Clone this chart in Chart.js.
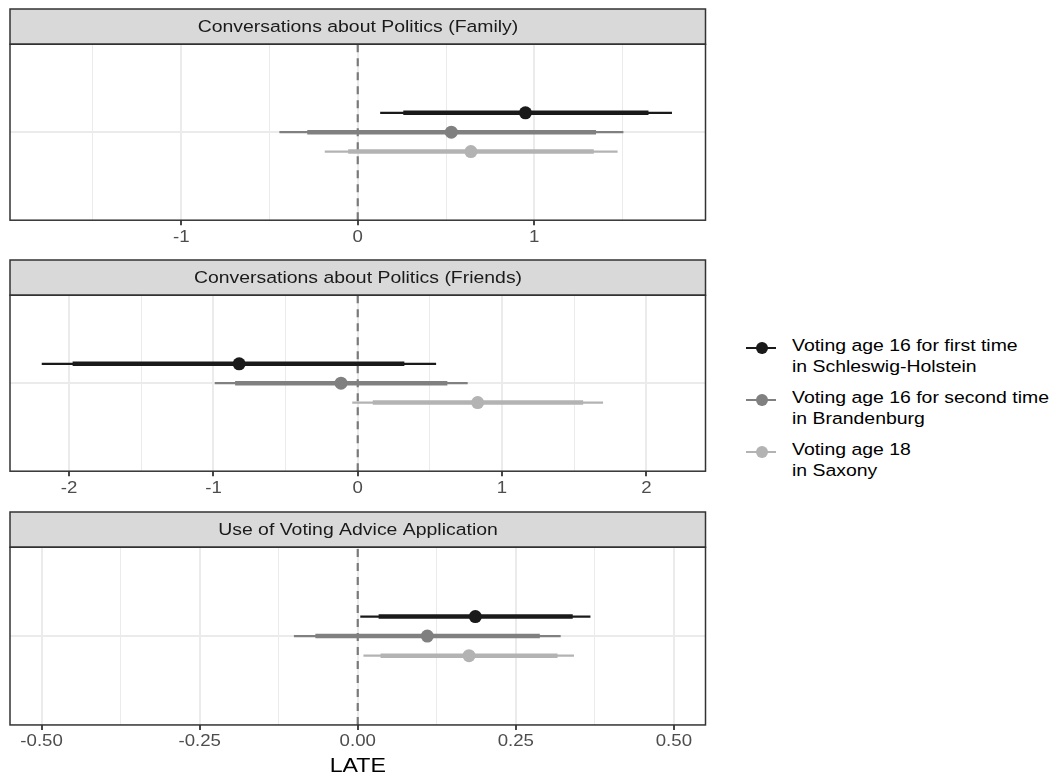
<!DOCTYPE html>
<html><head><meta charset="utf-8">
<script src="https://cdn.jsdelivr.net/npm/chart.js@4.4.1/dist/chart.umd.min.js"></script>
<style>
html,body{margin:0;padding:0;background:#fff;}
body{position:relative;width:1058px;height:778px;overflow:hidden;font-family:"Liberation Sans",Arial,sans-serif;}
canvas{position:absolute;left:0;}
#legend .item{position:absolute;left:746px;width:310px;height:44px;}
#legend .key{position:absolute;left:0;width:30px;height:2.5px;}
#legend .dot{position:absolute;left:9.5px;width:12px;height:12px;border-radius:50%;}
#legend .lab{position:absolute;left:46px;top:0;font-size:17.2px;line-height:21px;color:#000;white-space:nowrap;transform:scaleX(1.13);transform-origin:0 0;}
</style></head>
<body>
<canvas id="panel0" width="712" height="249" style="top:0px"></canvas>
<canvas id="panel1" width="712" height="249" style="top:251px"></canvas>
<canvas id="panel2" width="712" height="275" style="top:503px"></canvas>
<div id="legend"></div>
<script>
// ---------- data ----------
const outcomes = ['Conversations about Politics (Family)', 'Conversations about Politics (Friends)', 'Use of Voting Advice Application'];
const seriesLabels = [
  ['Voting age 16 for first time', 'in Schleswig-Holstein'],
  ['Voting age 16 for second time', 'in Brandenburg'],
  ['Voting age 18', 'in Saxony']
];
const xTitle = 'LATE';

const familyEst  = [0.950, 0.530, 0.641];
const familyLo95 = [0.127, -0.444, -0.187];
const familyHi95 = [1.780, 1.505, 1.472];
const familyLo90 = [0.258, -0.286, -0.054];
const familyHi90 = [1.647, 1.350, 1.337];

const friendsEst  = [-0.822, -0.116, 0.831];
const friendsLo95 = [-2.190, -0.991, -0.038];
const friendsHi95 = [0.543, 0.762, 1.700];
const friendsLo90 = [-1.976, -0.850, 0.104];
const friendsHi90 = [0.323, 0.621, 1.562];

const vaaEst  = [0.186, 0.110, 0.176];
const vaaLo95 = [0.004, -0.101, 0.009];
const vaaHi95 = [0.368, 0.321, 0.342];
const vaaLo90 = [0.033, -0.067, 0.036];
const vaaHi90 = [0.340, 0.288, 0.316];

const familyTicks = [-1, 0, 1];
const familyTickLabels = ['-1', '0', '1'];
const friendsTicks = [-2, -1, 0, 1, 2];
const friendsTickLabels = ['-2', '-1', '0', '1', '2'];
const vaaTicks = [-0.5, -0.25, 0, 0.25, 0.5];
const vaaTickLabels = ['-0.50', '-0.25', '0.00', '0.25', '0.50'];

// ---------- styles / layout ----------
const seriesColors = ['#1a1a1a', '#808080', '#b3b3b3'];
const DODGE = [0.22, 0, -0.22];
const FONT = '"Liberation Sans", Arial, sans-serif';
const STRETCH = 1.13;

const stretchPlugin = {
  id: 'stretchText',
  beforeInit(chart) {
    const ctx = chart.ctx;
    const orig = ctx.fillText.bind(ctx);
    ctx.fillText = function (t, x, y, maxW) {
      ctx.save();
      ctx.translate(x, y);
      ctx.scale(STRETCH, 1);
      if (maxW === undefined || maxW === null) orig(t, 0, 0);
      else orig(t, 0, 0, maxW / STRETCH);
      ctx.restore();
    };
  }
};

const panelPlugin = {
  id: 'panelDeco',
  beforeDraw(chart) {
    const { ctx, chartArea: a } = chart;
    const tb = chart.titleBlock;
    const top = tb ? tb.top : a.top - 35;
    ctx.save();
    ctx.fillStyle = '#d9d9d9';
    ctx.fillRect(a.left, top, a.right - a.left, a.top - top);
    ctx.strokeStyle = '#333333';
    ctx.lineWidth = 1.5;
    ctx.strokeRect(a.left, top, a.right - a.left, a.top - top);
    ctx.restore();
  },
  afterDraw(chart) {
    const { ctx, chartArea: a } = chart;
    ctx.save();
    ctx.strokeStyle = '#333333';
    ctx.lineWidth = 1.5;
    ctx.strokeRect(a.left, a.top, a.right - a.left, a.bottom - a.top);
    ctx.restore();
  }
};

function buildPanel(id, title, est, lo95, hi95, lo90, hi90, ticks, tickLabels, limit, showXTitle) {
  const step = ticks[1] - ticks[0];
  const minor = [];
  for (let k = -1; k < ticks.length; k++) {
    const v = ticks[0] + (k + 0.5) * step;
    if (v > -limit && v < limit) minor.push(v);
  }
  const allTicks = ticks.concat(minor).sort((a, b) => a - b);
  const isMajor = v => ticks.indexOf(v) >= 0;

  const datasets = [{
    data: [{ x: 0, y: -1 }, { x: 0, y: 1 }], showLine: true,
    borderColor: '#7a7a7a', borderWidth: 2.2, borderDash: [8, 6], pointRadius: 0, order: 10
  }];
  est.forEach((e, i) => {
    const y = DODGE[i];
    datasets.push({ data: [{ x: lo95[i], y }, { x: hi95[i], y }], showLine: true,
      borderColor: seriesColors[i], borderWidth: 2.2, pointRadius: 0, order: 5 });
    datasets.push({ data: [{ x: lo90[i], y }, { x: hi90[i], y }], showLine: true,
      borderColor: seriesColors[i], borderWidth: 4.5, pointRadius: 0, order: 4 });
    datasets.push({ data: [{ x: e, y }], pointRadius: 6.5, pointBackgroundColor: seriesColors[i],
      pointBorderWidth: 0, pointBorderColor: seriesColors[i], order: 1 });
  });

  return new Chart(document.getElementById(id), {
    type: 'scatter',
    data: { datasets },
    plugins: [stretchPlugin, panelPlugin],
    options: {
      responsive: false, animation: false, devicePixelRatio: 1, events: [],
      layout: { padding: { left: 10, right: 6, top: 9, bottom: showXTitle ? 1 : 0 } },
      plugins: {
        legend: { display: false }, tooltip: { enabled: false },
        title: { display: true, text: title, color: '#1a1a1a',
          font: { family: FONT, size: 17.2, weight: 'normal', lineHeight: 1.2 },
          padding: { top: 8.2, bottom: 6.4 } }
      },
      scales: {
        x: {
          type: 'linear', min: -limit, max: limit,
          afterBuildTicks(s) { s.ticks = allTicks.map(v => ({ value: v })); },
          ticks: {
            autoSkip: false, maxRotation: 0, minRotation: 0, color: '#4d4d4d',
            font: { family: FONT, size: 16.5 }, padding: 2,
            callback(v) { const k = ticks.indexOf(v); return k >= 0 ? tickLabels[k] : ''; }
          },
          grid: {
            color: '#ebebeb',
            lineWidth: c => (c.tick && isMajor(c.tick.value)) ? 2 : 1,
            drawTicks: true, tickLength: 5, tickWidth: 1.8,
            tickColor: c => (c.tick && isMajor(c.tick.value)) ? '#333333' : 'rgba(0,0,0,0)'
          },
          border: { display: false },
          title: { display: showXTitle, text: xTitle, color: '#000000',
            font: { family: FONT, size: 20.5, lineHeight: 1.0 }, padding: { top: 2.75, bottom: 0 } }
        },
        y: {
          type: 'linear', min: -1, max: 1,
          afterBuildTicks(s) { s.ticks = [{ value: 0 }]; },
          ticks: { display: false },
          grid: { color: '#ebebeb', lineWidth: 2, drawTicks: false },
          border: { display: false }
        }
      }
    }
  });
}

buildPanel('panel0', outcomes[0], familyEst, familyLo95, familyHi95, familyLo90, familyHi90,
  familyTicks, familyTickLabels, 1.97, false);
buildPanel('panel1', outcomes[1], friendsEst, friendsLo95, friendsHi95, friendsLo90, friendsHi90,
  friendsTicks, friendsTickLabels, 2.41, false);
buildPanel('panel2', outcomes[2], vaaEst, vaaLo95, vaaHi95, vaaLo90, vaaHi90,
  vaaTicks, vaaTickLabels, 0.55, true);

// ---------- legend ----------
const legend = document.getElementById('legend');
seriesLabels.forEach((lines, i) => {
  const item = document.createElement('div');
  item.className = 'item';
  item.style.top = (335 + 52 * i) + 'px';
  const key = document.createElement('div');
  key.className = 'key'; key.style.top = '11.75px'; key.style.background = seriesColors[i];
  const dot = document.createElement('div');
  dot.className = 'dot'; dot.style.top = '7px'; dot.style.background = seriesColors[i];
  const lab = document.createElement('div');
  lab.className = 'lab';
  lines.forEach((t, j) => {
    if (j) lab.appendChild(document.createElement('br'));
    lab.appendChild(document.createTextNode(t));
  });
  item.appendChild(key); item.appendChild(dot); item.appendChild(lab);
  legend.appendChild(item);
});
</script>
</body></html>
